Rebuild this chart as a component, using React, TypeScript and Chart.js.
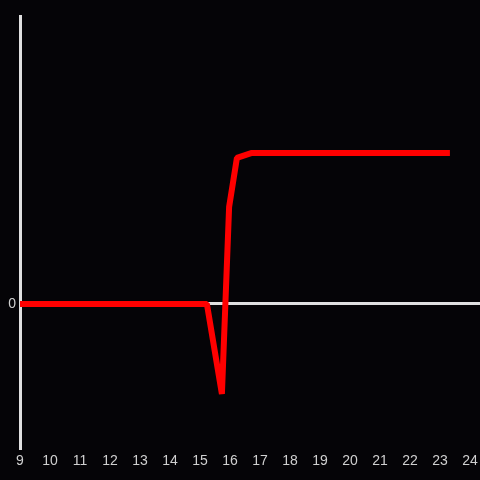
import React, { useEffect, useRef } from "react";
import { Chart, registerables } from "chart.js";

Chart.register(...registerables);

const hours = [9, 15.23, 15.73, 15.97, 16.23, 16.73, 23.33];
const values = [0, 0, -0.596, 0.642, 0.967, 1, 1];
const xTickLabels = [9, 10, 11, 12, 13, 14, 15, 16, 17, 18, 19, 20, 21, 22, 23, 24];
const yTickLabels = [0];

export default function App() {
  const ref = useRef<HTMLCanvasElement>(null);
  useEffect(() => {
    document.body.style.margin = "0";
    document.body.style.background = "#050407";
    const ctx = ref.current!;
    const chart = new Chart(ctx, {
      type: "line",
      data: {
        datasets: [
          {
            data: hours.map((h, i) => ({ x: h, y: values[i] })),
            borderColor: "#ff0000",
            borderWidth: 6,
            borderJoinStyle: "bevel",
            pointRadius: 0,
            tension: 0,
            fill: false,
          },
        ],
      },
      options: {
        animation: false,
        responsive: false,
        layout: { padding: { top: 16, right: 0, left: 0, bottom: 0 } },
        plugins: { legend: { display: false }, tooltip: { enabled: false } },
        scales: {
          x: {
            type: "linear",
            min: 9,
            max: 24.333,
            afterBuildTicks: (s: any) => {
              s.ticks = xTickLabels.map((v) => ({ value: v }));
            },
            afterFit: (s: any) => {
              s.height = 32;
              s.paddingLeft = 0;
              s.paddingRight = 0;
            },
            grid: { display: false, drawTicks: false },
            border: { display: false },
            ticks: {
              color: "#d0d0d0",
              font: { family: "Liberation Sans, Arial, sans-serif", size: 14 },
              padding: 5,
              maxRotation: 0,
              autoSkip: false,
            },
          },
          y: {
            type: "linear",
            min: -0.954,
            max: 1.907,
            afterBuildTicks: (s: any) => {
              s.ticks = yTickLabels.map((v) => ({ value: v }));
            },
            afterFit: (s: any) => {
              s.width = 20;
              s.paddingTop = 0;
              s.paddingBottom = 0;
            },
            grid: {
              color: "#e0e0e0",
              lineWidth: 3,
              drawTicks: false,
            },
            border: { display: true, color: "#e0e0e0", width: 3 },
            ticks: {
              color: "#d0d0d0",
              font: { family: "Liberation Sans, Arial, sans-serif", size: 14 },
              padding: 4,
            },
          },
        },
      },
    });
    return () => chart.destroy();
  }, []);
  return (
    <div style={{ position: "fixed", left: 0, top: 0, width: 480, height: 480, background: "#050407" }}>
      <canvas ref={ref} width={480} height={480} />
    </div>
  );
}
